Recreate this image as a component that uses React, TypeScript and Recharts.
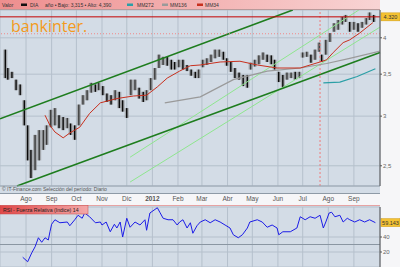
import { ComposedChart, LineChart, Line, Bar, Cell, XAxis, YAxis, CartesianGrid, ReferenceLine } from 'recharts'

// x values are days counted from 1 Aug 2011
const monthDays = [0, 31, 61, 92, 122, 153, 184, 213, 244, 274, 305, 335, 366, 397]
const monthLabels = ['Ago', 'Sep', 'Oct', 'Nov', 'Dic', '2012', 'Feb', 'Mar', 'Abr', 'May', 'Jun', 'Jul', 'Ago', 'Sep']
const dayDomain: [number, number] = [-31.5, 428.6]

const priceTicks = [2.5, 3, 3.5, 4]
const rsiTicks = [20, 40]

// daily-ish high / low bars (DIA)
const barDays = [
  -25, -22, -17, -12, -7, -2, 2, 6, 11, 16,
  21, 25, 30, 35, 40, 45, 50, 54, 59, 64,
  69, 74, 79, 84, 88, 93, 98, 103, 108, 113,
  117, 122, 127, 132, 137, 142, 146, 151, 156, 161,
  166, 171, 176, 180, 185, 190, 195, 200, 205, 209,
  214, 219, 224, 229, 234, 239, 243, 248, 253, 258,
  263, 268, 272, 277, 282, 287, 292, 297, 301, 306,
  311, 316, 321, 326, 331, 335, 340, 345, 350, 355,
  358, 363, 368, 373, 378, 383, 387, 392, 397, 402,
  407, 412, 416, 421,
]
const barHigh = [
  3.83, 3.58, 3.53, 3.43, 3.37, 3.18, 2.9, 2.65, 2.8, 2.85,
  2.85, 2.9, 3.07, 3.09, 3.01, 2.99, 2.98, 2.92, 2.9, 3.13,
  3.24, 3.3, 3.39, 3.37, 3.39, 3.35, 3.26, 3.24, 3.3, 3.28,
  3.18, 3.09, 3.43, 3.43, 3.33, 3.28, 3.3, 3.45, 3.58, 3.76,
  3.73, 3.73, 3.69, 3.66, 3.69, 3.69, 3.62, 3.56, 3.53, 3.56,
  3.69, 3.71, 3.76, 3.83, 3.83, 3.8, 3.71, 3.66, 3.58, 3.52,
  3.49, 3.49, 3.65, 3.69, 3.75, 3.79, 3.76, 3.75, 3.69, 3.53,
  3.49, 3.52, 3.52, 3.53, 3.53, 3.79, 3.8, 3.76, 3.83, 3.93,
  3.76, 3.97, 4.07, 4.22, 4.27, 4.32, 4.35, 4.24, 4.24, 4.22,
  4.24, 4.3, 4.39, 4.35,
]
const barLow = [
  3.45, 3.43, 3.45, 3.3, 3.24, 2.9, 2.55, 2.39, 2.46, 2.55,
  2.65, 2.7, 2.88, 2.9, 2.87, 2.85, 2.87, 2.8, 2.75, 2.9,
  3.13, 3.18, 3.27, 3.28, 3.3, 3.24, 3.16, 3.13, 3.18, 3.09,
  3.05, 2.98, 3.24, 3.3, 3.2, 3.16, 3.18, 3.3, 3.43, 3.58,
  3.62, 3.61, 3.56, 3.56, 3.59, 3.56, 3.54, 3.48, 3.45, 3.45,
  3.59, 3.62, 3.66, 3.71, 3.73, 3.69, 3.61, 3.53, 3.45, 3.43,
  3.35, 3.33, 3.56, 3.6, 3.63, 3.69, 3.66, 3.63, 3.56, 3.4,
  3.34, 3.43, 3.45, 3.43, 3.45, 3.72, 3.73, 3.65, 3.69, 3.8,
  3.66, 3.76, 3.94, 4.09, 4.12, 4.2, 4.24, 4.09, 4.12, 4.09,
  4.15, 4.2, 4.27, 4.24,
]

// moving averages
const ma34Days = [23, 29, 35, 45, 53, 65, 77, 90, 102, 110, 130, 146, 159, 171, 186, 199, 211, 235, 259, 280, 304, 332, 356, 364, 372, 384, 392, 404, 420]
const ma34 = [3.01, 2.9, 2.83, 2.77, 2.82, 2.88, 3.03, 3.15, 3.18, 3.2, 3.23, 3.24, 3.34, 3.45, 3.54, 3.61, 3.62, 3.66, 3.67, 3.62, 3.58, 3.58, 3.66, 3.69, 3.79, 3.93, 3.97, 4.07, 4.23]
const ma136Days = [168, 211, 251, 292, 332, 364, 392, 429]
const ma136 = [3.15, 3.22, 3.43, 3.54, 3.58, 3.64, 3.71, 3.81]
const ma272Days = [360, 380, 401, 423]
const ma272 = [3.39, 3.4, 3.47, 3.57]

// trend lines: [startDay, startPrice, endDay, endPrice]
const channelUpper = [-31.5, 2.97, 323, 4.43]
const channelLower = [-11, 2.32, 428.6, 3.79]
const fanUpper = [126, 2.58, 403, 4.43]
const fanLower = [126, 2.355, 428.6, 4.16]

const lastPrice = 4.32
const supportLevel = 4.06
const markerDay = 356

// RSI 14
const rsiDays = [
  -4, 2, 7, 11, 15, 19, 23, 27, 29, 31,
  35, 41, 50, 53, 59, 63, 68, 71, 77, 84,
  90, 92, 97, 102, 107, 110, 114, 117, 122, 126,
  132, 138, 144, 146, 150, 159, 162, 166, 172, 178,
  183, 186, 190, 195, 199, 202, 207, 211, 217, 223,
  229, 235, 241, 247, 251, 257, 262, 268, 271, 280,
  286, 292, 298, 304, 306, 311, 320, 328, 332, 338,
  344, 350, 356, 360, 363, 367, 370, 374, 380, 384,
  389, 392, 398, 404, 410, 416, 423,
]
const rsiValues = [
  13, 7, 19, 27, 39, 33, 39, 36, 47, 57,
  63, 59, 60, 55, 63, 69, 65, 72, 67, 59,
  60, 56, 60, 47, 57, 52, 60, 40, 65, 53,
  60, 56, 63, 49, 72, 79, 73, 65, 63, 63,
  56, 60, 63, 52, 59, 45, 55, 60, 63, 59,
  63, 60, 56, 52, 43, 39, 43, 52, 60, 63,
  60, 53, 56, 52, 43, 47, 47, 52, 67, 63,
  67, 65, 69, 52, 60, 72, 73, 67, 69, 60,
  65, 63, 60, 63, 60, 63, 59.143,
]
const lastRsi = 59.143

const bars = barDays.map((day, i) => ({ day, range: [barLow[i], barHigh[i]] }))
const toSeries = (days: number[], vals: number[]) => days.map((day, i) => ({ day, v: vals[i] }))
const seg = (l: number[]) => [{ x: l[0], y: l[1] }, { x: l[2], y: l[3] }]
const rsiData = toSeries(rsiDays, rsiValues)

const FONT = '"Liberation Sans", Arial, sans-serif'

const MonthTick = ({ x, y, payload }: any) => {
  const label = monthLabels[monthDays.indexOf(payload.value)]
  return (
    <text x={x} y={y + 15} textAnchor="middle" fontSize={6.5} fill="#555" fontFamily={FONT} fontWeight={label === '2012' ? 'bold' : 'normal'}>
      {label}
    </text>
  )
}

// high-low bar: gray shadow with a thin dark stroke in the middle
const RangeBar = ({ x, y, width, height, fill }: any) => {
  const cx = x + width / 2
  const h = Math.max(height, 1)
  return (
    <g>
      <rect x={cx - 2} y={y} width={4} height={h} fill="#7c7c7c" opacity={0.55} />
      <rect x={cx - 0.7} y={y} width={1.4} height={h} fill={fill} />
    </g>
  )
}

const ValueTag = ({ viewBox, text }: any) => {
  const { x, y, width } = viewBox
  return (
    <g>
      <rect x={x + width + 1} y={y - 4} width={19} height={8} fill="#f4c233" stroke="#d09a10" strokeWidth={0.5} />
      <text x={x + width + 10.5} y={y + 2} textAnchor="middle" fontSize={5.5} fill="#333" fontFamily={FONT}>{text}</text>
    </g>
  )
}

export default function App() {
  return (
    <div style={{ position: 'absolute', left: 0, top: 0, width: 400, height: 267, overflow: 'hidden', background: '#f6f6f8', fontFamily: FONT }}>
      <div style={{ position: 'absolute', left: 0, top: 9, width: 380, height: 184, background: '#d3dce6', borderBottom: '1px solid #8e9aa6' }} />
      <div style={{ position: 'absolute', left: 0, top: 205, width: 380, height: 62, background: '#d3dce6', borderTop: '1px solid #e7a3a3' }} />

      <div style={{ position: 'absolute', left: 0, top: 0 }}>
        <ComposedChart width={400} height={204} data={bars} margin={{ top: 10, right: 0, bottom: 0, left: 0 }}>
          <CartesianGrid stroke="#b5c0cc" />
          <XAxis
            dataKey="day"
            type="number"
            domain={dayDomain}
            ticks={monthDays}
            interval={0}
            allowDataOverflow
            height={18}
            tickLine={false}
            tickSize={0}
            tickMargin={0}
            axisLine={{ stroke: '#98a4b0' }}
            tick={<MonthTick />}
          />
          <YAxis
            orientation="right"
            scale="log"
            domain={[2.321, 4.43]}
            allowDataOverflow
            ticks={priceTicks}
            interval={0}
            width={20}
            tickSize={2}
            tickMargin={1}
            axisLine={{ stroke: '#555' }}
            tickLine={{ stroke: '#555' }}
            tick={{ fontSize: 6, fill: '#666', fontFamily: FONT }}
            tickFormatter={(v: number) => String(v).replace('.', ',')}
          />
          <ReferenceLine segment={seg(fanUpper)} stroke="#8fe68f" strokeWidth={1} ifOverflow="visible" />
          <ReferenceLine segment={seg(fanLower)} stroke="#8fe68f" strokeWidth={1} ifOverflow="visible" />
          <ReferenceLine segment={seg(channelUpper)} stroke="#1e7d1e" strokeWidth={1.6} ifOverflow="visible" />
          <ReferenceLine segment={seg(channelLower)} stroke="#1e7d1e" strokeWidth={1.6} ifOverflow="visible" />
          <ReferenceLine y={supportLevel} stroke="#f08a8a" strokeDasharray="1 2" />
          <ReferenceLine x={markerDay} stroke="#f07a7a" strokeDasharray="2 2" />
          <Bar dataKey="range" barSize={4} shape={<RangeBar />} isAnimationActive={false}>
            {bars.map((_b, i) => {
              const up = i > 0 && barHigh[i] + barLow[i] >= barHigh[i - 1] + barLow[i - 1]
              return <Cell key={i} fill={up ? '#3a3a3a' : '#0a0a0a'} />
            })}
          </Bar>
          <Line data={toSeries(ma272Days, ma272)} dataKey="v" stroke="#2b9fa6" strokeWidth={1.2} dot={false} isAnimationActive={false} />
          <Line data={toSeries(ma136Days, ma136)} dataKey="v" stroke="#9a9a9a" strokeWidth={1.2} dot={false} isAnimationActive={false} />
          <Line data={toSeries(ma34Days, ma34)} dataKey="v" stroke="#c8301e" strokeWidth={1} dot={false} isAnimationActive={false} />
          <ReferenceLine y={lastPrice} stroke="#c40000" strokeWidth={1} label={<ValueTag text="4.320" />} />
        </ComposedChart>
      </div>

      <div style={{ position: 'absolute', left: 0, top: 205 }}>
        <LineChart width={400} height={62} data={rsiData} margin={{ top: 2, right: 0, bottom: 0, left: 0 }}>
          <CartesianGrid stroke="#b5c0cc" />
          <XAxis dataKey="day" type="number" domain={dayDomain} ticks={monthDays} interval={0} allowDataOverflow hide />
          <YAxis
            orientation="right"
            domain={[0, 80]}
            ticks={rsiTicks}
            interval={0}
            width={20}
            tickSize={2}
            tickMargin={1}
            axisLine={{ stroke: '#555' }}
            tickLine={{ stroke: '#555' }}
            tick={{ fontSize: 6, fill: '#666', fontFamily: FONT }}
          />
          <ReferenceLine y={30} stroke="#8a96a2" />
          <Line dataKey="v" stroke="#1c1ce6" strokeWidth={1} dot={false} isAnimationActive={false} />
          <ReferenceLine y={lastRsi} stroke="none" label={<ValueTag text="59.143" />} />
        </LineChart>
      </div>

      <svg width={400} height={267} style={{ position: 'absolute', left: 0, top: 0, pointerEvents: 'none' }}>
        <defs>
          <linearGradient id="legendBg" x1="0" x2="1" y1="0" y2="0">
            <stop offset="0" stopColor="#ee8e8e" />
            <stop offset="1" stopColor="#f8d4d4" />
          </linearGradient>
          <linearGradient id="rsiBg" x1="0" x2="1" y1="0" y2="0">
            <stop offset="0" stopColor="#e04848" />
            <stop offset="1" stopColor="#f3a8a8" />
          </linearGradient>
        </defs>
        <rect x={0} y={0} width={380} height={9} fill="url(#legendBg)" />
        <line x1={0} x2={380} y1={9.5} y2={9.5} stroke="#b89a9a" />
        <g fontSize={5} fill="#333" fontFamily={FONT}>
          <text x={2} y={6.5}>Valor</text>
          <rect x={21} y={3.5} width={6} height={2.5} fill="#111" />
          <text x={30} y={6.5}>DIA</text>
          <text x={45} y={6.5}>año • Bajo: 3,315 • Alto: 4,390</text>
          <rect x={127} y={3.5} width={6} height={2.5} fill="#2b9fa6" />
          <text x={137} y={6.5}>MM272</text>
          <rect x={162} y={3.5} width={6} height={2.5} fill="#9a9a9a" />
          <text x={170} y={6.5}>MM136</text>
          <rect x={197} y={3.5} width={6} height={2.5} fill="#c8301e" />
          <text x={205} y={6.5}>MM34</text>
        </g>
        <text x={11} y={32} fontSize={16} fill="#f39a1c" fontFamily='"Open Sans", sans-serif'>bankinter.</text>
        <text x={2} y={191} fontSize={5} fill="#555" fontFamily={FONT}>© IT-Finance.com    Selección del período: Diario</text>
        <rect x={0} y={205.5} width={88} height={8.5} fill="url(#rsiBg)" stroke="#c84848" strokeWidth={0.5} />
        <text x={3} y={212} fontSize={5.2} fill="#222" fontFamily={FONT}>RSI - Fuerza Relativa (Indice) 14</text>
      </svg>
    </div>
  )
}
